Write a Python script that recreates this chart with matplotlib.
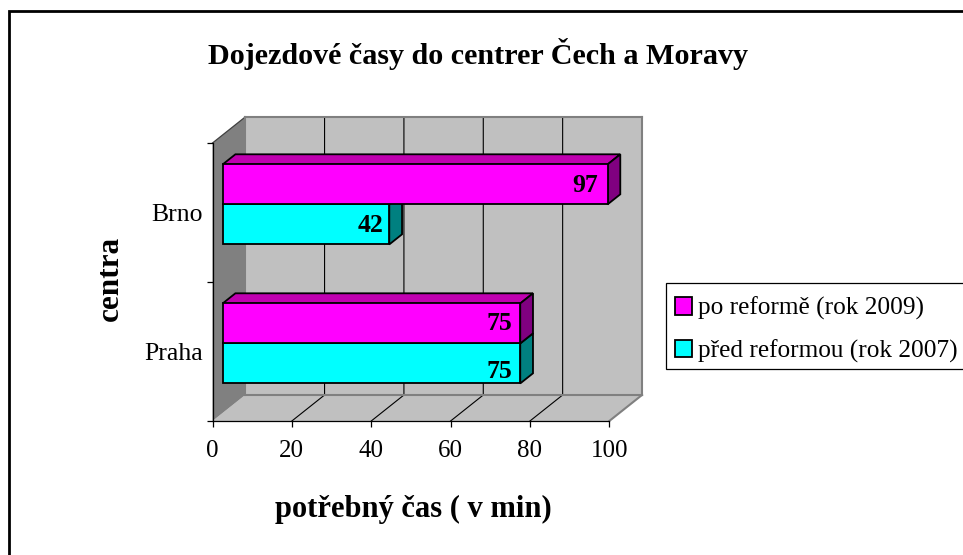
import matplotlib
matplotlib.use("Agg")
import matplotlib.pyplot as plt
from matplotlib.lines import Line2D
from matplotlib.patches import Polygon, Rectangle

plt.rcParams['font.family'] = ['Liberation Serif', 'DejaVu Serif']

title = "Dojezdové časy do centrer Čech a Moravy"
xlabel = "potřebný čas ( v min)"
ylabel = "centra"
categories = ["Praha", "Brno"]
series_names = ["po reformě (rok 2009)", "před reformou (rok 2007)"]
po_reforme = [75, 97]
pred_reformou = [75, 42]
xticks = [0, 20, 40, 60, 80, 100]

W, H = 963, 555
fig = plt.figure(figsize=(W / 100, H / 100), dpi=100, facecolor="white")
L, R, T, B = 212.5, 609.3, 143, 421
ax = fig.add_axes([L / W, (H - B) / H, (R - L) / W, (B - T) / H])
ax.set_xlim(0, 100)
ax.set_ylim(0, len(categories))
ax.patch.set_visible(False)

# Depth vector of the fake 3D box, in data units
DX = 32.7 * 100 / (R - L)
DY = 26 * len(categories) / (B - T)
F_FRONT, F_BACK = 0.31, 0.70
BAR_H = 40 * len(categories) / (B - T)
LABEL_SCALE = 0.982


def d(x, y, f):
    return (x + f * DX, y + f * DY)


def poly(pts, fc, ec="none", lw=0, z=1):
    ax.add_patch(Polygon(pts, closed=True, facecolor=fc, edgecolor=ec, linewidth=lw,
                         zorder=z, clip_on=False, joinstyle="miter"))


n = len(categories)
GRAY = "#808080"
LIGHT = "#C0C0C0"
# back wall, floor, left wall
poly([d(0, 0, 1), d(100, 0, 1), d(100, n, 1), d(0, n, 1)], LIGHT, z=0.5)
poly([d(0, 0, 0), d(100, 0, 0), d(100, 0, 1), d(0, 0, 1)], LIGHT, z=0.5)
poly([d(0, 0, 0), d(0, 0, 1), d(0, n, 1), d(0, n, 0)], GRAY, z=0.6)
for x in xticks[1:-1]:
    x0, y0 = d(x, 0, 0)
    x1, y1 = d(x, 0, 1)
    x2, y2 = d(x, n, 1)
    ax.plot([x0, x1, x2], [y0, y1, y2], color="black", lw=0.8, zorder=0.8,
            clip_on=False, solid_joinstyle="miter")
# gray outlines of the walls
for a, b in [((0, n, 1), (100, n, 1)), ((100, n, 1), (100, 0, 1)),
             ((0, 0, 1), (100, 0, 1)), ((100, 0, 1), (100, 0, 0))]:
    p, q = d(*a), d(*b)
    ax.plot([p[0], q[0]], [p[1], q[1]], color=GRAY, lw=1.5, zorder=0.9, clip_on=False,
            solid_capstyle="projecting")
p, q = d(0, n, 0), d(0, n, 1)
ax.plot([p[0], q[0]], [p[1], q[1]], color="#404040", lw=0.9, zorder=0.9, clip_on=False)
p, q = d(0, n, 1), d(0, 0, 1)
ax.plot([p[0], q[0]], [p[1], q[1]], color=GRAY, lw=1.5, zorder=0.9, clip_on=False)

EDGE = 1.3


def draw_series(values, sign, front, top, side, z, label, label_drop):
    handle = None
    for i, v in enumerate(values):
        yc = i + 0.5 + sign * BAR_H / 2
        y0 = yc - BAR_H / 2
        y1 = yc + BAR_H / 2
        # top and side faces of the box
        poly([d(0, y1, F_FRONT), d(v, y1, F_FRONT), d(v, y1, F_BACK), d(0, y1, F_BACK)],
             top, "black", EDGE, z)
        poly([d(v, y0, F_FRONT), d(v, y1, F_FRONT), d(v, y1, F_BACK), d(v, y0, F_BACK)],
             side, "black", EDGE, z)
        sx, sy = d(0, yc, F_FRONT)
        bars = ax.barh(sy, v, left=sx, height=BAR_H, color=front, edgecolor="black",
                       linewidth=EDGE, zorder=z + 0.1, clip_on=False,
                       label=label if i == 0 else None)
        if i == 0:
            handle = bars[0]
        ax.annotate(f"{v}", (sx + v * LABEL_SCALE, sy),
                    xytext=(-15.4 * 0.72, -label_drop[i] * 0.72), textcoords="offset points",
                    ha="center", va="center", fontsize=18.5, fontweight="bold",
                    zorder=z + 0.2, annotation_clip=False)
    return handle


h2 = draw_series(pred_reformou, -1, "#00FFFF", "#00C0C0", "#008080", 3, series_names[1], [8, 1.5])
h1 = draw_series(po_reforme, 1, "#FF00FF", "#C000B0", "#800080", 4, series_names[0], [0.5, 1.5])

# axes
for s in ("top", "right"):
    ax.spines[s].set_visible(False)
for s in ("left", "bottom"):
    ax.spines[s].set_linewidth(0.9)
    ax.spines[s].set_zorder(2)
ax.set_xticks(xticks)
ax.set_xticklabels([str(t) for t in xticks], fontsize=18)
ax.tick_params(axis="x", length=4.5, width=0.9, pad=9.5)
ax.set_yticks(range(n + 1))
ax.set_yticklabels([""] * (n + 1))
ax.tick_params(axis="y", which="major", length=4.5, width=0.9)
ax.set_yticks([i + 0.5 for i in range(n)], minor=True)
ax.set_yticklabels(categories, minor=True, fontsize=18.5)
ax.tick_params(axis="y", which="minor", length=0, pad=7)

ax.set_xlabel(xlabel, fontsize=22, fontweight="bold")
ax.xaxis.set_label_coords((413 - L) / (R - L), (B - 509) / (B - T), transform=ax.transAxes)
ax.xaxis.label.set_va("center")
ax.set_ylabel(ylabel, fontsize=22.5, fontweight="bold")
ax.yaxis.set_label_coords((110 - L) / (R - L), (B - 278) / (B - T), transform=ax.transAxes)
ax.yaxis.label.set_va("center")
fig.text(478 / W, 1 - 54 / H, title, ha="center", va="center", fontsize=21.7, fontweight="bold")

# legend frame runs off the right edge; its entries sit slightly below the middle
fig.add_artist(Rectangle((665.5 / W, (H - 369) / H), 310 / W, 86 / H, facecolor="white",
                         edgecolor="black", linewidth=0.9, transform=fig.transFigure))
leg = fig.legend([h1, h2], series_names, loc="lower left",
                 bbox_to_anchor=(665.5 / W, (H - 372.5) / H, 310 / W, 86 / H),
                 mode="expand", borderaxespad=0, fontsize=18.15, frameon=False,
                 handlelength=0.68, handleheight=0.68,
                 handletextpad=0.24, labelspacing=0.76, borderpad=0.38)

# outer chart frame, cut by the image edges
fig.add_artist(Line2D([9.3 / W, 9.3 / W, 1], [0, 1 - 11 / H, 1 - 11 / H], color="black", lw=2.0,
                      solid_joinstyle="miter", transform=fig.transFigure))

fig.savefig("out.png", dpi=100)
